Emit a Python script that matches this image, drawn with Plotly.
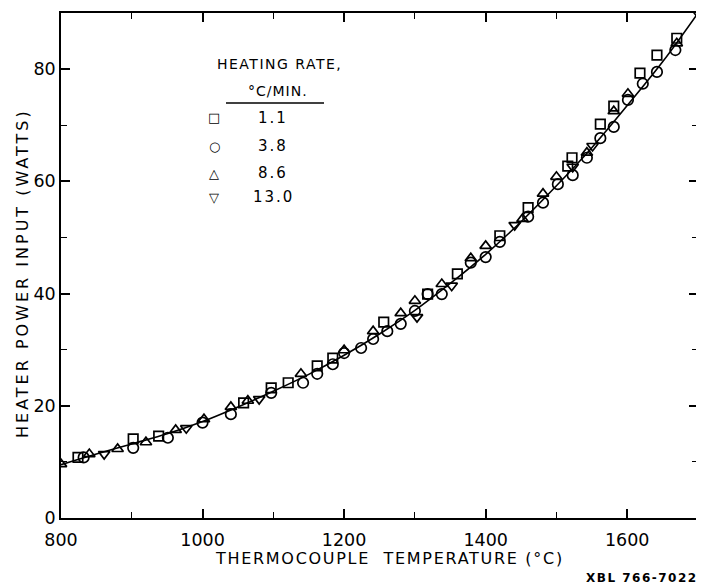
import plotly.graph_objects as go

# ---- data ----
sq_T = [824, 902, 938, 1058, 1097, 1121, 1162, 1184, 1256, 1318, 1360, 1420, 1460, 1516, 1522, 1562, 1581, 1618, 1642, 1670]
sq_W = [10.8, 14.1, 14.6, 20.5, 23.2, 24.1, 27.1, 28.5, 34.9, 39.9, 43.5, 50.3, 55.3, 62.7, 64.2, 70.2, 73.4, 79.3, 82.5, 85.5]

ci_T = [832, 902, 951, 1000, 1040, 1097, 1142, 1162, 1184, 1200, 1224, 1241, 1261, 1280, 1300, 1318, 1338, 1379, 1400, 1420, 1460, 1481, 1502, 1523, 1543, 1562, 1581, 1601, 1622, 1642, 1668]
ci_W = [10.8, 12.5, 14.3, 17.0, 18.5, 22.3, 24.1, 25.7, 27.4, 29.4, 30.3, 31.9, 33.3, 34.6, 36.9, 39.9, 39.9, 45.5, 46.5, 49.2, 53.7, 56.2, 59.5, 61.1, 64.2, 67.7, 69.7, 74.5, 77.4, 79.5, 83.4]

tu_T = [800, 840, 880, 920, 962, 1002, 1040, 1064, 1139, 1200, 1241, 1280, 1300, 1338, 1379, 1400, 1452, 1481, 1500, 1543, 1581, 1601, 1670]
tu_W = [9.6, 11.4, 12.3, 13.5, 15.7, 17.6, 19.8, 20.9, 25.7, 29.9, 33.3, 36.5, 38.7, 41.7, 46.3, 48.5, 53.3, 57.8, 60.8, 65.1, 72.5, 75.6, 84.6]

td_T = [861, 977, 1080, 1303, 1352, 1441, 1523, 1551, 1700]
td_W = [11.4, 16.0, 21.2, 35.8, 41.4, 52.2, 62.6, 66.3, 90.0]

curve_T = [800, 850, 900, 950, 1000, 1050, 1100, 1150, 1200, 1250, 1300, 1350, 1400, 1450, 1500, 1550, 1600, 1650, 1700]
curve_W = [9.5, 11.4, 13.2, 15.0, 17.2, 19.8, 22.6, 25.6, 29.0, 32.8, 37.0, 41.8, 47.0, 52.8, 59.2, 66.0, 73.5, 81.3, 90.0]

legend_rates = ["1.1", "3.8", "8.6", "13.0"]
legend_syms = ["\u25A1", "\u25CB", "\u25B3", "\u25BD"]

x_ticks = [800, 1000, 1200, 1400, 1600]
y_ticks = [0, 20, 40, 60, 80]

FONT = "DejaVu Sans"

fig = go.Figure()
fig.add_trace(go.Scatter(x=curve_T, y=curve_W, mode="lines",
                         line=dict(color="black", width=1.6, shape="spline"),
                         showlegend=False, hoverinfo="skip"))

def mk(sym, size=10):
    return dict(symbol=sym, size=size, color="black",
                line=dict(color="black", width=1.7))

fig.add_trace(go.Scatter(x=sq_T, y=sq_W, mode="markers", marker=mk("square-open", 9.5), showlegend=False))
fig.add_trace(go.Scatter(x=ci_T, y=ci_W, mode="markers", marker=mk("circle-open", 10.5), showlegend=False))
fig.add_trace(go.Scatter(x=tu_T, y=tu_W, mode="markers", marker=mk("triangle-up-open", 10), showlegend=False))
fig.add_trace(go.Scatter(x=td_T, y=td_W, mode="markers", marker=mk("triangle-down-open", 10), showlegend=False))

# page offset of the figure inside the browser body
OFF = 7
# target plot area on screen: x 60..697, y 12..517
SL, SR, ST, SB = 60, 697, 12, 517
W, H = 704, 588
L = SL - OFF
T = ST - OFF
R = W - (SR - OFF)
B = H - (SB - OFF)
pw, ph = SR - SL, SB - ST

def px(xp):
    return (xp - SL) / pw

def py(yp):
    return 1 - (yp - ST) / ph

def sp(s, ls):
    return '<span style="letter-spacing:%spx">%s</span>' % (ls, s)

def txt(x, y, s, size=14, xa="center", angle=0):
    return dict(x=px(x), y=py(y), text=s, showarrow=False, xref="paper", yref="paper",
                xanchor=xa, yanchor="middle", textangle=angle,
                font=dict(family=FONT, size=size, color="black"))

annotations = [
    txt(278, 63, sp("HEATING RATE,", 1.5), size=14),
    txt(277, 90, sp("\u00b0C/MIN.", 1), size=14),
    txt(699, 577, "<b>" + sp("XBL 766-7022", 1.5) + "</b>", size=12, xa="right"),
    txt(388, 557, sp("THERMOCOUPLE&nbsp; TEMPERATURE (\u00b0C)", 1.7), size=16),
    txt(21, 272, sp("HEATER POWER INPUT (WATTS)", 3), size=16, angle=-90),
]
rows_y = [117, 145, 172, 196]
for s, r, yy in zip(legend_syms, legend_rates, rows_y):
    annotations.append(txt(213, yy, s, size=13))
    annotations.append(txt(272, yy, sp(r, 2), size=15))

shapes = [dict(type="line", xref="paper", yref="paper", x0=px(225), x1=px(323), y0=py(102), y1=py(102),
               line=dict(color="black", width=1.5))]

axis_common = dict(showgrid=False, zeroline=False, showline=True, linecolor="black", linewidth=1.6,
                   mirror="allticks", ticks="inside", ticklen=9, tickwidth=1.5, tickcolor="black",
                   automargin=False,
                   tickfont=dict(family=FONT, size=17.5, color="black"))

fig.update_xaxes(range=[800, 1700], tickvals=x_ticks, ticktext=[str(v) for v in x_ticks],
                 ticklabelstandoff=5,
                 minor=dict(ticks="inside", dtick=100, tick0=800, ticklen=6, tickwidth=1.3, tickcolor="black", showgrid=False),
                 **axis_common)
fig.update_yaxes(range=[0, 90], tickvals=y_ticks, ticktext=[str(v) for v in y_ticks],
                 minor=dict(ticks="inside", dtick=10, tick0=0, ticklen=6, tickwidth=1.3, tickcolor="black", showgrid=False),
                 **axis_common)

fig.update_layout(width=W, height=H, margin=dict(l=L, r=R, t=T, b=B, autoexpand=False),
                  paper_bgcolor="white", plot_bgcolor="white",
                  annotations=annotations, shapes=shapes, showlegend=False)

fig.write_html("out.html")
